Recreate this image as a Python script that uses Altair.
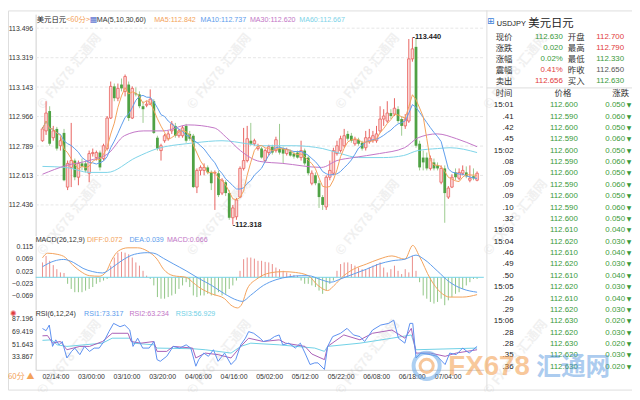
import altair as alt
import pandas as pd

# ---------------- candle data (hourly, USDJPY) ----------------
opens = [112.821, 112.880, 112.999, 112.839, 112.892, 112.791, 112.868, 112.543, 112.661, 112.702,
         112.602, 112.685, 112.685, 112.626, 112.744, 112.720, 112.750, 112.714, 112.774, 112.957,
         113.147, 113.076, 113.158, 113.117, 113.158, 112.957, 113.105, 113.099, 113.028, 113.034,
         113.040, 113.058, 112.839, 112.762, 112.821, 112.833, 112.880, 112.910, 112.851, 112.851,
         112.910, 112.862, 112.851, 112.543, 112.643, 112.643, 112.661, 112.631, 112.626, 112.626,
         112.507, 112.572, 112.507, 112.359, 112.365, 112.483, 112.655, 112.702, 112.821, 112.803,
         112.774, 112.774, 112.702, 112.750, 112.785, 112.762, 112.774, 112.774, 112.744, 112.756,
         112.744, 112.750, 112.720, 112.762, 112.720, 112.566, 112.614, 112.566, 112.483, 112.424,
         112.602, 112.626, 112.744, 112.762, 112.791, 112.862, 112.851, 112.803, 112.827, 112.809,
         112.779, 112.815, 112.821, 112.821, 112.880, 112.951, 112.939, 112.987, 112.981, 113.010,
         112.951, 112.910, 112.939, 113.312, 113.384, 112.803, 112.720, 112.720, 112.655, 112.691,
         112.673, 112.572, 112.655, 112.483, 112.543, 112.631, 112.596, 112.626, 112.631, 112.584,
         112.608, 112.584]
closes = [112.892, 112.987, 112.803, 112.880, 112.774, 112.821, 112.584, 112.685, 112.702, 112.602,
          112.685, 112.667, 112.643, 112.744, 112.750, 112.750, 112.661, 112.791, 112.957, 113.147,
          113.076, 113.135, 113.135, 113.206, 112.957, 113.135, 113.099, 113.028, 113.010, 113.040,
          113.070, 112.868, 112.774, 112.791, 112.851, 112.862, 112.922, 112.851, 112.880, 112.898,
          112.821, 112.833, 112.543, 112.643, 112.661, 112.661, 112.631, 112.566, 112.631, 112.495,
          112.584, 112.507, 112.359, 112.418, 112.466, 112.655, 112.702, 112.833, 112.803, 112.821,
          112.785, 112.720, 112.762, 112.785, 112.750, 112.827, 112.750, 112.744, 112.768, 112.732,
          112.726, 112.720, 112.762, 112.685, 112.626, 112.626, 112.566, 112.483, 112.436, 112.602,
          112.643, 112.762, 112.791, 112.833, 112.851, 112.833, 112.821, 112.827, 112.803, 112.774,
          112.839, 112.839, 112.851, 112.862, 112.951, 112.969, 112.987, 112.969, 113.016, 112.939,
          112.910, 112.951, 113.312, 113.372, 112.791, 112.661, 112.691, 112.655, 112.714, 112.655,
          112.655, 112.655, 112.507, 112.537, 112.602, 112.602, 112.631, 112.643, 112.608, 112.596,
          112.596, 112.626]
highs = [112.904, 113.058, 113.028, 112.910, 112.904, 112.845, 112.892, 112.702, 112.928, 112.714,
         112.702, 112.714, 112.702, 112.762, 112.774, 112.762, 112.762, 112.803, 112.969, 113.176,
         113.164, 113.164, 113.194, 113.218, 113.176, 113.147, 113.141, 113.117, 113.058, 113.058,
         113.129, 113.070, 112.851, 112.803, 112.862, 112.880, 112.939, 112.928, 112.892, 112.910,
         112.922, 112.880, 112.862, 112.655, 112.673, 112.685, 112.673, 112.643, 112.643, 112.643,
         112.596, 112.584, 112.525, 112.436, 112.477, 112.667, 112.898, 112.910, 112.928, 112.833,
         112.803, 112.785, 112.774, 112.797, 112.797, 112.845, 112.922, 112.785, 112.779, 112.768,
         112.756, 112.762, 112.821, 112.774, 112.732, 112.643, 112.631, 112.584, 112.495, 112.614,
         112.702, 112.779, 112.821, 112.851, 112.892, 112.880, 112.868, 112.845, 112.839, 112.821,
         112.880, 112.892, 112.880, 112.910, 113.028, 113.010, 113.058, 113.010, 113.076, 113.028,
         112.969, 112.981, 113.431, 113.440, 113.437, 112.821, 112.762, 112.750, 112.732, 112.714,
         112.691, 112.673, 112.673, 112.549, 112.620, 112.655, 112.655, 112.673, 112.667, 112.673,
         112.655, 112.637]
lows = [112.815, 112.856, 112.791, 112.821, 112.762, 112.762, 112.578, 112.525, 112.543, 112.584,
        112.554, 112.643, 112.631, 112.572, 112.726, 112.702, 112.643, 112.702, 112.762, 112.951,
        113.058, 113.058, 113.117, 113.087, 112.939, 112.951, 113.087, 113.016, 112.928, 113.022,
        113.034, 112.862, 112.762, 112.702, 112.809, 112.821, 112.862, 112.839, 112.839, 112.839,
        112.809, 112.821, 112.537, 112.507, 112.614, 112.614, 112.620, 112.525, 112.406, 112.483,
        112.495, 112.489, 112.347, 112.318, 112.347, 112.477, 112.643, 112.691, 112.791, 112.791,
        112.762, 112.714, 112.691, 112.732, 112.738, 112.750, 112.738, 112.685, 112.732, 112.726,
        112.714, 112.714, 112.702, 112.673, 112.614, 112.554, 112.554, 112.418, 112.406, 112.406,
        112.584, 112.614, 112.732, 112.750, 112.779, 112.821, 112.809, 112.791, 112.791, 112.762,
        112.762, 112.803, 112.809, 112.809, 112.868, 112.910, 112.928, 112.951, 112.969, 112.928,
        112.851, 112.892, 112.928, 113.295, 112.779, 112.643, 112.643, 112.643, 112.643, 112.643,
        112.643, 112.560, 112.329, 112.472, 112.537, 112.584, 112.584, 112.614, 112.596, 112.572,
        112.584, 112.578]

time_labels = ["02/14:00", "03/00:00", "03/10:00", "03/20:00", "04/06:00", "04/16:00",
               "05/02:00", "05/12:00", "05/22:00", "06/08:00", "06/18:00", "07/04:00"]
time_label_pos = [3.6, 13.5, 23.4, 33.3, 43.3, 53.2, 63.1, 73.0, 83.0, 92.9, 102.8, 112.8]

# long moving averages (candle index, value)
ma30_idx = [0, 6.7, 12.9, 18.3, 22.8, 28.2, 33.6, 40.6, 47.8, 51.3, 55.1, 60.5, 66.9, 77.7, 82,
            86.6, 93.8, 100.8, 104.6, 109.9, 115.3, 121]
ma30_val = [112.620, 112.673, 112.702, 112.744, 112.851, 112.880, 112.880, 112.916, 112.898, 112.839,
            112.762, 112.697, 112.685, 112.661, 112.702, 112.720, 112.744, 112.779, 112.839, 112.862,
            112.833, 112.785]
ma60_idx = [0, 6.5, 13, 18, 26, 32, 40, 42.5, 50, 57, 61, 70, 78, 83, 88, 95, 100.5, 104.5, 110,
            113.5, 121]
ma60_val = [112.667, 112.661, 112.631, 112.631, 112.720, 112.774, 112.803, 112.809, 112.821, 112.803,
            112.791, 112.791, 112.774, 112.744, 112.720, 112.720, 112.732, 112.762, 112.774, 112.779,
            112.750]

# MACD(26,12,9)
macd_hist = [0.055, 0.079, 0.061, 0.045, 0.030, 0.018, 0.016, -0.024, -0.043, -0.055,
             -0.055, -0.055, -0.049, -0.043, -0.036, -0.024, -0.018, -0.012, -0.006, 0.043,
             0.073, 0.091, 0.094, 0.091, 0.085, 0.073, 0.055, 0.043, 0.024, 0.006,
             -0.006, -0.030, -0.073, -0.079, -0.079, -0.073, -0.067, -0.061, -0.043, -0.030,
             -0.018, -0.036, -0.067, -0.073, -0.067, -0.067, -0.061, -0.067, -0.067, -0.055,
             -0.067, -0.061, -0.043, -0.030, -0.012, 0.024, 0.067, 0.073, 0.073, 0.069,
             0.061, 0.061, 0.057, 0.055, 0.049, 0.036, 0.030, 0.024, 0.018, 0.012,
             0.009, 0.006, -0.012, -0.024, -0.024, -0.030, -0.036, -0.049, -0.061, -0.049,
             -0.024, -0.012, 0.024, 0.049, 0.055, 0.055, 0.049, 0.043, 0.036, 0.030,
             0.030, 0.036, 0.043, 0.049, 0.055, 0.036, 0.018, 0.030, 0.043, 0.024,
             0.012, 0.030, 0.018, 0.079, 0.024, -0.018, -0.067, -0.079, -0.091, -0.097,
             -0.091, -0.079, -0.103, -0.085, -0.073, -0.061, -0.055, -0.043, -0.030, -0.018,
             -0.006, -0.006]
diff_idx = [0, 1.4, 4.1, 6.4, 7.7, 10.4, 13.1, 15.8, 17.6, 19.4, 21.1, 23.8, 26.5, 29.2, 31.9, 33.7,
            36.4, 40, 41.8, 43.5, 47.1, 50.7, 52.5, 54.3, 55.6, 57, 59.7, 63.2, 66.9, 70.4, 74, 76.7,
            79.4, 81.2, 83.9, 86.6, 90.2, 93.7, 97.3, 100.9, 103.1, 104.9, 108, 110.8, 113.4, 117, 121]
diff_val = [0.072, 0.089, 0.085, 0.073, 0.055, 0.024, 0.006, 0.004, 0.018, 0.067, 0.097, 0.109, 0.109,
            0.097, 0.067, 0.030, 0.006, 0.0, -0.018, -0.036, -0.061, -0.079, -0.103, -0.113, -0.097,
            -0.043, -0.006, 0.016, 0.021, 0.018, 0.006, -0.030, -0.049, -0.030, 0.006, 0.030, 0.049,
            0.067, 0.079, 0.067, 0.118, 0.079, -0.006, -0.055, -0.073, -0.073, -0.064]
dea_idx = [0, 3.2, 5.9, 8.6, 11.3, 14, 16.7, 19.4, 22, 25.6, 29.2, 31, 33.7, 36.4, 40, 43.5, 47.1,
           50.7, 54.3, 55.6, 57.9, 61.5, 65, 68.6, 72.2, 74, 77.6, 80.3, 83, 86.6, 90.2, 93.7, 97.3,
           100.9, 104, 106.2, 109.9, 113.4, 117, 121]
dea_val = [0.039, 0.060, 0.066, 0.055, 0.033, 0.021, 0.016, 0.036, 0.061, 0.085, 0.091, 0.089, 0.070,
           0.050, 0.024, -0.004, -0.030, -0.061, -0.085, -0.089, -0.067, -0.030, -0.009, 0.002, 0.006,
           0.006, -0.009, -0.018, -0.006, 0.012, 0.030, 0.049, 0.061, 0.067, 0.082, 0.067, 0.024,
           -0.018, -0.043, -0.055]

# RSI(6,12,24)
rsi1_idx = [0, 1, 1.9, 2.8, 3.7, 4.6, 5.5, 6.8, 8.1, 9, 10.4, 11.7, 13.1, 14.4, 15.8, 17.1, 18.5, 19.8,
            21.6, 22.9, 24.3, 25.2, 26.5, 27.9, 29.7, 31, 31.9, 32.8, 34.6, 36.4, 38.2, 40, 41.3, 42.7,
            43.5, 44.9, 46.2, 47.6, 48.9, 50.7, 52.5, 53.8, 55.2, 56.5, 57.4, 58.8, 60.6, 61.5, 63.3,
            64.6, 65.9, 66.9, 68.6, 70.4, 71.8, 73.1, 74.5, 75.8, 76.7, 78.5, 79.4, 80.8, 83, 84.8,
            86.6, 88.4, 89.7, 91.9, 94.2, 96.4, 97.8, 99.1, 100.9, 102.3, 103.1, 104, 105.4, 108,
            109.9, 112.1, 113.4, 115.2, 117, 118.8, 121]
rsi1_val = [73.3, 70.3, 78.1, 48.5, 57.6, 50.7, 55.3, 32.5, 41.6, 46.2, 37.1, 48.5, 41.6, 46.2, 46.2,
            55.3, 69.0, 80.4, 75.8, 78.1, 71.2, 48.5, 59.9, 46.2, 46.2, 55.3, 30.2, 27.9, 34.8, 48.5,
            46.2, 50.7, 46.2, 21.1, 30.2, 39.3, 34.8, 43.9, 27.9, 39.3, 23.4, 30.2, 50.7, 59.9, 69.0,
            66.7, 59.9, 55.3, 57.6, 62.1, 64.4, 50.7, 53.0, 46.2, 53.0, 39.3, 23.4, 25.7, 25.7, 16.6,
            48.5, 62.1, 66.7, 73.5, 64.4, 62.1, 55.3, 71.2, 78.1, 80.4, 84.9, 59.9, 53.0, 80.4, 80.4,
            32.5, 39.3, 37.1, 34.8, 23.4, 39.3, 37.1, 46.2, 39.3, 48.5]
rsi2_idx = [0, 1.4, 2.8, 5, 6.8, 10.4, 13.1, 16.7, 19.4, 23.8, 24.7, 27.4, 31, 31.9, 34.6, 36.4, 41.8,
            42.7, 45.3, 48.9, 52.5, 55.2, 57.4, 61.5, 65.9, 67.7, 73.1, 75, 78.5, 79.4, 83.9, 88.4,
            91.9, 97.3, 100.9, 102.7, 104, 108, 112.1, 115.2, 121]
rsi2_val = [63.2, 63.5, 53.0, 55.3, 43.9, 48.5, 48.5, 55.3, 66.7, 66.7, 55.3, 53.0, 55.3, 41.6, 41.6,
            48.5, 46.2, 32.5, 39.3, 37.1, 32.5, 48.5, 59.9, 55.3, 57.6, 53.0, 48.5, 38.0, 30.2, 48.5,
            64.4, 57.6, 66.7, 71.2, 59.9, 73.5, 39.3, 39.3, 34.8, 39.3, 43.9]
rsi3_idx = [0, 2.5, 4.1, 6.8, 16.7, 19.4, 24.3, 25.2, 31, 31.9, 41.8, 45.3, 52.5, 55.2, 58, 65.9,
            75.8, 78.5, 79.4, 88.4, 97.3, 102.7, 104, 121]
rsi3_val = [56.9, 57.6, 50.7, 48.5, 53.0, 59.9, 59.9, 53.0, 50.7, 46.2, 45.3, 43.9, 39.3, 48.5, 53.0,
            50.7, 46.2, 41.6, 48.5, 53.0, 59.9, 64.4, 43.9, 46.2]

price_ticks = [113.496, 113.319, 113.143, 112.966, 112.789, 112.613, 112.436]
macd_ticks = [0.115, 0.069, 0.023, -0.023, -0.069]
rsi_ticks = [87.196, 69.419, 51.643, 33.867]

# quote panel
info_lab_l = ["现价", "涨跌", "涨幅", "震幅", "卖出"]
info_val_l = ["112.630", "0.020", "0.02%", "0.41%", "112.656"]
info_tone_l = ["down", "down", "down", "up", "up"]
info_lab_r = ["开盘", "最高", "最低", "昨收", "买入"]
info_val_r = ["112.700", "112.790", "112.330", "112.650", "112.630"]
info_tone_r = ["up", "up", "down", "flat", "down"]
trade_times = ["15:01", ".41", ".42", ".45", "15:02", ".08", ".09", ".09", ".09", ".10", ".32", "15:03",
               "15:04", ".46", ".49", ".50", "15:05", ".26", ".29", "15:06", ".28", ".28", ".35", ".36"]
trade_prices = [112.600, 112.590, 112.600, 112.590, 112.600, 112.590, 112.600, 112.590, 112.600, 112.590,
                112.600, 112.610, 112.620, 112.610, 112.620, 112.610, 112.620, 112.610, 112.620, 112.630,
                112.620, 112.630, 112.620, 112.630]
trade_changes = [0.050, 0.060, 0.050, 0.060, 0.050, 0.060, 0.050, 0.060, 0.050, 0.060, 0.050, 0.040,
                 0.030, 0.040, 0.030, 0.040, 0.030, 0.040, 0.030, 0.020, 0.030, 0.020, 0.030, 0.020]

# ---------------- layout / styles ----------------
W, H = 632, 384
n = len(closes)
X0, X1 = 28.1, 481.9
LBL_FONT = "Liberation Sans"
CJK = "Noto Sans CJK SC"
ORANGE, BLUE, PURPLE, CYAN = "#f3a25a", "#5d9cec", "#c275c6", "#7dd3e8"
UP, DOWN, DOWN_W = "#e8625e", "#4fa244", "#9ccb8f"

candles = pd.DataFrame({"i": list(range(n)), "open": opens, "high": highs, "low": lows, "close": closes})

x_scale = alt.Scale(domain=[-0.5, n - 0.5], range=[X0, X1], nice=False, zero=False)
lbl_expr = ("[" + ",".join(f"'{s}'" for s in time_labels) + "][indexof([" +
            ",".join(str(v) for v in time_label_pos) + "], datum.value)]")
x_axis = alt.Axis(orient="bottom", offset=-20, values=time_label_pos, labelExpr=lbl_expr, ticks=False,
                  tickSize=0, grid=False, domainColor="#cfcfcf", labelColor="#333333", labelFontSize=7,
                  labelFont=LBL_FONT, labelPadding=3, labelOverlap=False, labelFlush=False, title=None)


def X(field="i"):
    return alt.X(f"{field}:Q", scale=x_scale, axis=x_axis)


def y_axis(vals):
    return alt.Axis(orient="left", offset=-28, values=vals, format=".3f", ticks=False, tickSize=0,
                    grid=False, domainColor="#cfcfcf", labelColor="#333333", labelFontSize=7,
                    labelFont=LBL_FONT, labelPadding=3, labelOverlap=False, labelFlush=False, title=None)


py = alt.Scale(domain=[112.25, 113.58], range=[228.4, 3.8], nice=False, zero=False)
ms = alt.Scale(domain=[-0.12, 0.147], range=[303.2, 230.0], nice=False, zero=False)
rs = alt.Scale(domain=[16.09, 98.13], range=[364, 304], nice=False, zero=False)


def PY(f):
    return alt.Y(f"{f}:Q", scale=py, axis=y_axis(price_ticks))


def MY(f):
    return alt.Y(f"{f}:Q", scale=ms, axis=y_axis(macd_ticks))


def RY(f):
    return alt.Y(f"{f}:Q", scale=rs, axis=y_axis(rsi_ticks))


one = pd.DataFrame({"k": [0]})


def label(txt, x, y, color="#333333", size=7.2, align="left", font=LBL_FONT, weight="normal",
          angle=0, opacity=1.0, baseline="middle"):
    return alt.Chart(one).mark_text(align=align, baseline=baseline, fontSize=size, font=font,
                                    fontWeight=weight, angle=angle, opacity=opacity, color=color).encode(
        x=alt.value(x), y=alt.value(y), text=alt.value(txt))


def hline(y, x1, x2, color="#dddddd", dash=None):
    kw = {"strokeDash": dash} if dash else {}
    return alt.Chart(one).mark_rule(color=color, strokeWidth=1, **kw).encode(
        x=alt.value(x1), x2=alt.value(x2), y=alt.value(y))


def vline(x, y1, y2, color="#dddddd"):
    return alt.Chart(one).mark_rule(color=color, strokeWidth=1).encode(
        x=alt.value(x), y=alt.value(y1), y2=alt.value(y2))


# ---------------- watermarks ----------------
wm_layers = []
for cx in [62, 214, 364, 514]:
    for cy in [62, 210, 352]:
        wm_layers.append(label("© FX678 汇通网", cx, cy, color="#b8b8b8", size=13, align="center",
                               font=CJK, weight="bold", angle=309, opacity=0.2))

# ---------------- price panel ----------------
is_up = "datum.close >= datum.open"
is_dn = "datum.close < datum.open"
base = alt.Chart(candles)
grid_p = alt.Chart(pd.DataFrame({"v": price_ticks})).mark_rule(
    color="#e6e6e6", strokeDash=[3, 2], strokeWidth=1).encode(
    y=PY("v"), x=alt.value(X0), x2=alt.value(X1))
wick_up = base.transform_filter(is_up).mark_rule(color=UP, strokeWidth=1).encode(
    x=X(), y=PY("low"), y2="high:Q")
wick_dn = base.transform_filter(is_dn).mark_rule(color=DOWN_W, strokeWidth=1).encode(
    x=X(), y=PY("low"), y2="high:Q")
body_up = base.transform_filter(is_up).mark_bar(width=2.6, fill="#fcd9d8", stroke=UP,
                                                strokeWidth=0.8).encode(x=X(), y=PY("open"), y2="close:Q")
body_dn = base.transform_filter(is_dn).mark_bar(width=2.8, color=DOWN).encode(
    x=X(), y=PY("open"), y2="close:Q")
ma5 = base.transform_window(ma5="mean(close)", frame=[-4, 0], sort=[alt.SortField("i")]).mark_line(
    color=ORANGE, strokeWidth=1).encode(x=X(), y=PY("ma5"))
ma10 = base.transform_window(ma10="mean(close)", frame=[-9, 0], sort=[alt.SortField("i")]).mark_line(
    color=BLUE, strokeWidth=1).encode(x=X(), y=PY("ma10"))
ma30 = alt.Chart(pd.DataFrame({"i": ma30_idx, "v": ma30_val})).mark_line(
    color=PURPLE, strokeWidth=1, interpolate="monotone").encode(x=X(), y=PY("v"))
ma60 = alt.Chart(pd.DataFrame({"i": ma60_idx, "v": ma60_val})).mark_line(
    color=CYAN, strokeWidth=1, interpolate="monotone").encode(x=X(), y=PY("v"))
hi_i, lo_i = highs.index(max(highs)), lows.index(min(lows))
ann = pd.DataFrame({"i": [hi_i, lo_i], "p": [max(highs), min(lows)],
                    "t": [f"-{max(highs):.3f}", f"-{min(lows):.3f}"]})
ann_txt = alt.Chart(ann).mark_text(align="left", baseline="middle", fontSize=7.5, font=LBL_FONT,
                                   fontWeight="bold", color="#222222").encode(
    x=X(), y=PY("p"), text="t:N")
price_panel = alt.layer(grid_p, wick_up, wick_dn, body_up, body_dn, ma60, ma30, ma10, ma5, ann_txt)

# ---------------- MACD panel ----------------
hist_df = pd.DataFrame({"i": list(range(n)), "h": macd_hist})
zero_line = alt.Chart(pd.DataFrame({"v": [0.0]})).mark_rule(color="#74d2e6", strokeWidth=1).encode(
    y=MY("v"), x=alt.value(X0), x2=alt.value(X1))
hist_pos = alt.Chart(hist_df).transform_filter("datum.h > 0").transform_calculate(z="0").mark_rule(
    color="#ea8d8a", strokeWidth=1).encode(x=X(), y=MY("h"), y2="z:Q")
hist_neg = alt.Chart(hist_df).transform_filter("datum.h <= 0").transform_calculate(z="0").mark_rule(
    color="#8fc584", strokeWidth=1).encode(x=X(), y=MY("h"), y2="z:Q")
diff_line = alt.Chart(pd.DataFrame({"i": diff_idx, "v": diff_val})).mark_line(
    color=ORANGE, strokeWidth=1, interpolate="monotone").encode(x=X(), y=MY("v"))
dea_line = alt.Chart(pd.DataFrame({"i": dea_idx, "v": dea_val})).mark_line(
    color=BLUE, strokeWidth=1, interpolate="monotone").encode(x=X(), y=MY("v"))
macd_panel = alt.layer(hist_pos, hist_neg, zero_line, diff_line, dea_line)

# ---------------- RSI panel ----------------
rsi3 = alt.Chart(pd.DataFrame({"i": rsi3_idx, "v": rsi3_val})).mark_line(
    color="#6fd0e6", strokeWidth=1).encode(x=X(), y=RY("v"))
rsi2 = alt.Chart(pd.DataFrame({"i": rsi2_idx, "v": rsi2_val})).mark_line(
    color="#a95fb6", strokeWidth=1).encode(x=X(), y=RY("v"))
rsi1 = alt.Chart(pd.DataFrame({"i": rsi1_idx, "v": rsi1_val})).mark_line(
    color="#5b8ff0", strokeWidth=1).encode(x=X(), y=RY("v"))
rsi_panel = alt.layer(rsi3, rsi2, rsi1)

# ---------------- titles ----------------
titles = [
    label("美元日元", 29, 10, color="#222222", size=7.5, font=CJK),
    label("<60分>", 59, 10, color=ORANGE, size=7.5, font=CJK),
    label("▦", 86.5, 10, color="#5a6fd0", size=8, align="center", font="DejaVu Sans"),
    label("MA(5,10,30,60)", 90, 10),
    label("MA5:112.842", 148, 10, color=ORANGE),
    label("MA10:112.737", 195, 10, color=BLUE),
    label("MA30:112.620", 245, 10, color=PURPLE),
    label("MA60:112.667", 295, 10, color=CYAN),
    label("MACD(26,12,9)", 28, 233),
    label("DIFF:0.072", 80, 233, color=ORANGE),
    label("DEA:0.039", 123, 233, color=BLUE),
    label("MACD:0.066", 161, 233, color=PURPLE),
    label("RSI(6,12,24)", 28, 307),
    label("RSI1:73.317", 77, 307, color=BLUE),
    label("RSI2:63.234", 123, 307, color=PURPLE),
    label("RSI3:56.929", 170, 307, color="#6fd0e6"),
    label("✺", 2, 307, color="#e03c3c", size=8, align="left", font="DejaVu Sans"),
    label("60分 ▲", 0, 371, color=ORANGE, size=8, font=CJK),
]

# ---------------- quote table ----------------
tone_scale = alt.Scale(domain=["up", "down", "flat"], range=["#e23b3b", "#3a9a3a", "#555555"])
info = pd.DataFrame({"r": list(range(5)), "ll": info_lab_l, "vl": info_val_l, "tl": info_tone_l,
                     "lr": info_lab_r, "vr": info_val_r, "tr": info_tone_r})
info_y = alt.Scale(domain=[0, 4], range=[27, 72])
IY = alt.Y("r:Q", scale=info_y, axis=None)
info_layers = [
    alt.Chart(info).mark_text(align="left", baseline="middle", fontSize=8.5, font=CJK, color="#333333").encode(
        x=alt.value(494), y=IY, text="ll:N"),
    alt.Chart(info).mark_text(align="right", baseline="middle", fontSize=8, font=LBL_FONT).encode(
        x=alt.value(562), y=IY, text="vl:N", color=alt.Color("tl:N", scale=tone_scale, legend=None)),
    alt.Chart(info).mark_text(align="left", baseline="middle", fontSize=8.5, font=CJK, color="#333333").encode(
        x=alt.value(567), y=IY, text="lr:N"),
    alt.Chart(info).mark_text(align="right", baseline="middle", fontSize=8, font=LBL_FONT).encode(
        x=alt.value(624), y=IY, text="vr:N", color=alt.Color("tr:N", scale=tone_scale, legend=None)),
]
trades = pd.DataFrame({"r": list(range(len(trade_times))), "t": trade_times,
                       "p": [f"{v:.3f}" for v in trade_prices],
                       "c": [f"{v:.3f}" for v in trade_changes],
                       "tone": ["down" if v < 112.650 else "up" for v in trade_prices]})
trade_y = alt.Scale(domain=[0, len(trade_times) - 1], range=[96, 361])
TY = alt.Y("r:Q", scale=trade_y, axis=None)
trade_layers = [
    alt.Chart(trades).mark_text(align="right", baseline="middle", fontSize=8, font=LBL_FONT,
                                color="#222222").encode(x=alt.value(512), y=TY, text="t:N"),
    alt.Chart(trades).mark_text(align="center", baseline="middle", fontSize=8, font=LBL_FONT).encode(
        x=alt.value(563), y=TY, text="p:N", color=alt.Color("tone:N", scale=tone_scale, legend=None)),
    alt.Chart(trades).mark_text(align="right", baseline="middle", fontSize=8, font=LBL_FONT).encode(
        x=alt.value(625), y=TY, text="c:N", color=alt.Color("tone:N", scale=tone_scale, legend=None)),
    alt.Chart(trades).mark_text(align="center", baseline="middle", fontSize=6, font="DejaVu Sans").encode(
        x=alt.value(629), y=TY, text=alt.value("▼"), color=alt.Color("tone:N", scale=tone_scale, legend=None)),
]
table_head = [
    label("⊞", 489, 11, color="#3b7fd8", size=9, align="center", font="DejaVu Sans"),
    label("USDJPY", 495, 14, color="#222222", size=7.5),
    label("美元日元", 527, 14, color="#222222", size=11.5, font=CJK),
    label("时间", 494, 84, color="#333333", size=8.5, font=CJK),
    label("价格", 562, 84, color="#333333", size=8.5, font=CJK, align="center"),
    label("涨跌", 629, 84, color="#333333", size=8.5, font=CJK, align="right"),
]
frame = [vline(485, 0, H, color="#dcdcdc"), hline(78.5, 485, W, color="#dcdcdc")]

# ---------------- big logo ----------------
logo = [
    alt.Chart(one).mark_point(shape="circle", size=700, filled=False, strokeWidth=4, color="#6aa8e8",
                              opacity=0.55).encode(x=alt.value(424), y=alt.value(360)),
    alt.Chart(one).mark_point(shape="circle", size=180, filled=False, strokeWidth=3, color="#f3a25a",
                              opacity=0.6).encode(x=alt.value(424), y=alt.value(360)),
    label("FX678", 446, 369, color="#f39c4a", size=28, weight="bold", opacity=0.55, baseline="alphabetic"),
    label("汇通网", 535, 369, color="#4a8fdc", size=25, font=CJK, weight="bold", opacity=0.45,
          baseline="alphabetic"),
]

chart = alt.layer(
    *wm_layers, *frame, price_panel, macd_panel, rsi_panel, *titles, *info_layers, *trade_layers,
    *table_head, *logo
).resolve_scale(y="independent").properties(
    width=W, height=H, autosize=alt.AutoSizeParams(type="none"), padding=0
).configure_view(stroke=None).configure(background="white")

chart.save("out.html", embed_options={"renderer": "svg", "actions": False})
